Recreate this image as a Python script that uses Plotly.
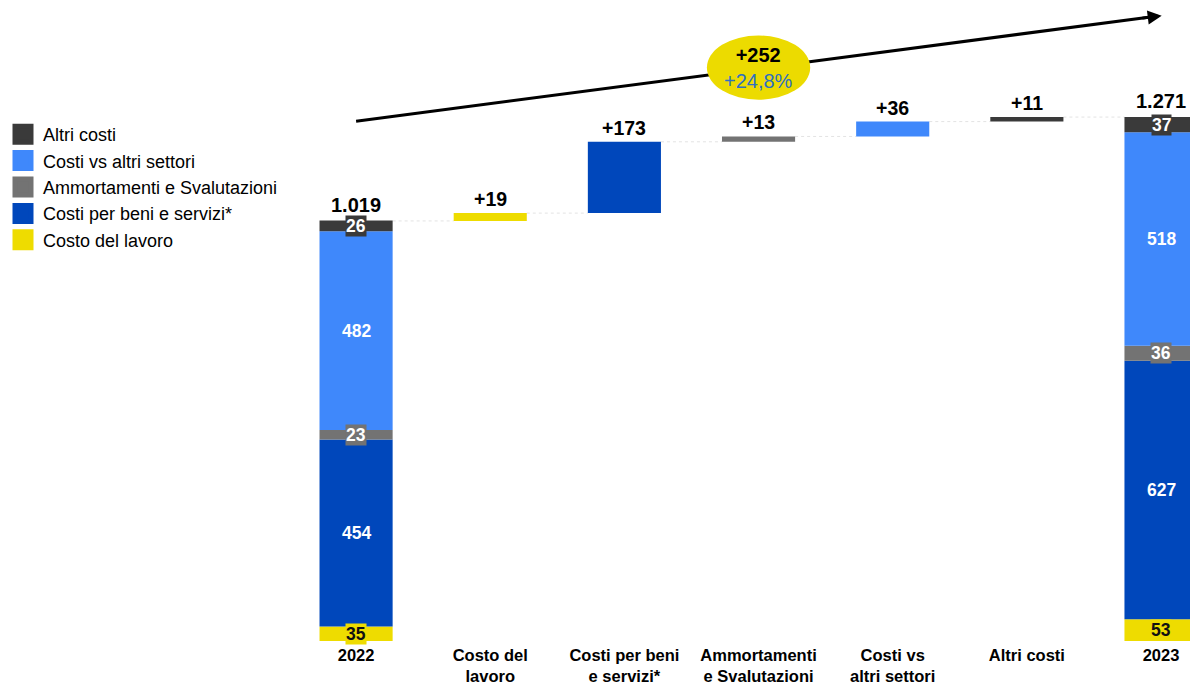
import plotly.graph_objects as go

# ---- data ----
categories = ["2022", "Costo del<br>lavoro", "Costi per beni<br>e servizi*", "Ammortamenti<br>e Svalutazioni",
              "Costi vs<br>altri settori", "Altri costi", "2023"]
series_names = ["Costo del lavoro", "Costi per beni e servizi*", "Ammortamenti e Svalutazioni",
                "Costi vs altri settori", "Altri costi"]
values_2022 = [35, 454, 23, 482, 26]
values_2023 = [53, 627, 36, 518, 37]
deltas = [19, 173, 13, 36, 11]
delta_labels = ["+19", "+173", "+13", "+36", "+11"]
total_2022 = 1019
total_2023 = 1271
total_labels = ["1.019", "1.271"]
change_label = "+252"
change_pct_label = "+24,8%"

colors = ["#EEDC00", "#0047BB", "#737373", "#3F88FB", "#3A3A3A"]
label_colors = ["#111111", "white", "white", "white", "white"]
FONT = "Liberation Sans, Arial, sans-serif"

fig = go.Figure()

# stacked segments for 2022 and 2023
base22, base23 = 0, 0
annotations = []
for i, name in enumerate(series_names):
    v22, v23 = values_2022[i], values_2023[i]
    fig.add_trace(go.Bar(
        x=[0, 6], y=[v22, v23], base=[base22, base23], name=name, showlegend=False,
        marker=dict(color=colors[i], line=dict(width=0)), width=0.545,
        hoverinfo="skip"))
    for xx, b, v in [(0, base22, v22), (6, base23, v23)]:
        big = v > 100
        annotations.append(dict(
            x=xx, y=b + v / 2, xref="x", yref="y", text=f"<b>{v}</b>", showarrow=False,
            font=dict(family=FONT, size=17.5, color=label_colors[i]),
            bgcolor=None if big else colors[i], borderpad=0))
    base22 += v22
    base23 += v23

# legend entries (square swatches), top entry = last series
n = len(series_names)
for i, name in enumerate(series_names):
    fig.add_trace(go.Scatter(
        x=[None], y=[None], mode="markers", name=name, legendrank=n - i,
        marker=dict(symbol="square", size=16, color=colors[i], line=dict(color=colors[i], width=5))))

# waterfall deltas
wf_base = []
cum = total_2022
for d in deltas:
    wf_base.append(cum)
    cum += d
fig.add_trace(go.Bar(
    x=[1, 2, 3, 4, 5], y=deltas, base=wf_base, showlegend=False,
    marker=dict(color=colors, line=dict(width=0)), width=0.545, hoverinfo="skip"))

for j, d in enumerate(deltas):
    annotations.append(dict(
        x=j + 1, y=wf_base[j] + d, xref="x", yref="y", text=f"<b>{delta_labels[j]}</b>",
        showarrow=False, yanchor="bottom", yshift=1,
        font=dict(family=FONT, size=19.5, color="black")))

for xx, tot, lab in [(0, total_2022, total_labels[0]), (6, total_2023, total_labels[1])]:
    annotations.append(dict(
        x=xx, y=tot, xref="x", yref="y", text=f"<b>{lab}</b>", showarrow=False,
        yanchor="bottom", yshift=3, font=dict(family=FONT, size=20, color="black")))

shapes = []
# connector lines
levels = [total_2022] + [wf_base[j] + deltas[j] for j in range(len(deltas))]
for k, lvl in enumerate(levels):
    shapes.append(dict(type="line", xref="x", yref="y", x0=k + 0.2725, x1=k + 1 - 0.2725,
                       y0=lvl, y1=lvl, line=dict(color="#E3E3E3", width=1, dash="dot"), layer="below"))

# trend arrow line
shapes.append(dict(type="line", xref="x", yref="y", x0=0, y0=1261, x1=5.95, y1=1515,
                   line=dict(color="black", width=3)))
# ellipse
shapes.append(dict(type="circle", xref="x", yref="y", x0=3 - 0.385, x1=3 + 0.385,
                   y0=1391 - 78, y1=1391 + 78, fillcolor="#ECDB00", line=dict(width=0)))

annotations.append(dict(x=6.005, y=1517, xref="x", yref="y", ax=5.85, ay=1510.5,
                        axref="x", ayref="y", showarrow=True, arrowhead=2, arrowsize=1,
                        arrowwidth=2.8, arrowcolor="black", text=""))
annotations.append(dict(x=3, y=1391, xref="x", yref="y", showarrow=False,
                        text=f"<b>{change_label}</b><br><span style='color:#2E6FC0'>{change_pct_label}</span>",
                        font=dict(family=FONT, size=20, color="black")))

fig.update_layout(
    width=1190, height=686,
    margin=dict(l=289, r=0, t=0, b=45, autoexpand=False),
    barmode="overlay",
    plot_bgcolor="white", paper_bgcolor="white",
    xaxis=dict(range=[-0.5, 6.216], tickmode="array", tickvals=list(range(7)),
               ticktext=[f"<b>{c}</b>" for c in categories], showgrid=False, zeroline=False,
               showline=False, ticks="", ticklabelstandoff=2, automargin=False,
               tickfont=dict(family=FONT, size=16.5, color="black")),
    yaxis=dict(range=[0, 1555], visible=False, automargin=False),
    legend=dict(xref="container", yref="container", x=3 / 1190, y=1 - 116 / 686,
                xanchor="left", yanchor="top",
                traceorder="normal", font=dict(family=FONT, size=18, color="black"),
                itemwidth=30, tracegroupgap=0, bgcolor="rgba(0,0,0,0)", borderwidth=0),
    annotations=annotations, shapes=shapes,
    showlegend=True,
)

fig.write_html("out.html", config={"displayModeBar": False},
               post_script="document.body.style.margin='0px';document.body.style.overflow='hidden';")
